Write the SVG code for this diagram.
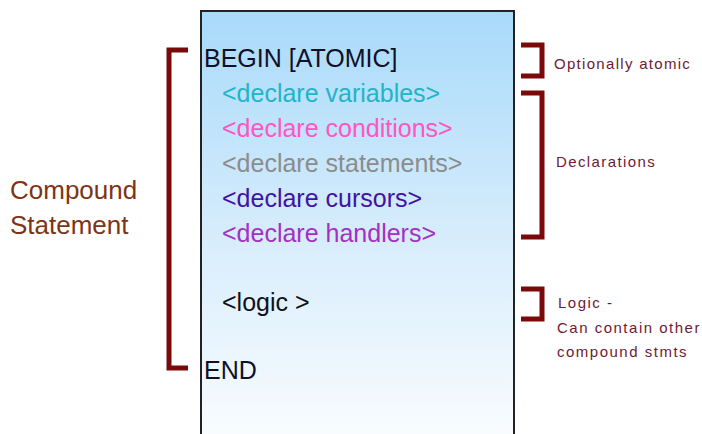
<svg xmlns="http://www.w3.org/2000/svg" width="702" height="434" viewBox="0 0 702 434">
  <defs>
    <linearGradient id="boxGrad" x1="0" y1="0" x2="0" y2="1">
      <stop offset="0" stop-color="#a8dafa"/>
      <stop offset="0.55" stop-color="#daeefc"/>
      <stop offset="1" stop-color="#fbfdff"/>
    </linearGradient>
  </defs>
  <style>
    .code { font-family: "Liberation Sans", Arial, sans-serif; font-size: 25px; }
    .note { font-family: "Liberation Sans", Arial, sans-serif; font-size: 15px; fill: #6e1a34; }
    .big { font-family: "Liberation Sans", Arial, sans-serif; font-size: 26px; fill: #7e3414; }
    .brk { fill: none; stroke: #7a0a0a; stroke-width: 5; stroke-linejoin: miter; }
  </style>
  <rect width="702" height="434" fill="#ffffff"/>
  <g id="box">
    <rect x="201" y="11" width="313" height="440" fill="url(#boxGrad)" stroke="#222222" stroke-width="2"/>
    <text class="code" x="204" y="67" fill="#101028">BEGIN [ATOMIC]</text>
    <text class="code" x="222" y="102" fill="#22b4c8">&lt;declare variables&gt;</text>
    <text class="code" x="222" y="137" fill="#ff55c4">&lt;declare conditions&gt;</text>
    <text class="code" x="222" y="172" fill="#8c8c8c">&lt;declare statements&gt;</text>
    <text class="code" x="222" y="207" fill="#4212a4">&lt;declare cursors&gt;</text>
    <text class="code" x="222" y="242" fill="#a430c4">&lt;declare handlers&gt;</text>
    <text class="code" x="222" y="311" fill="#101018">&lt;logic &gt;</text>
    <text class="code" x="204" y="379" fill="#101028">END</text>
  </g>
  <g id="label-compound">
    <text class="big" x="10" y="199">Compound</text>
    <text class="big" x="10" y="234">Statement</text>
  </g>
  <g id="label-atomic">
    <text class="note" x="554" y="69" letter-spacing="1.3">Optionally atomic</text>
  </g>
  <g id="label-declarations">
    <text class="note" x="556" y="167" letter-spacing="1.4">Declarations</text>
  </g>
  <g id="label-logic">
    <text class="note" x="558" y="308" letter-spacing="1.5">Logic -</text>
    <text class="note" x="557" y="333" letter-spacing="1.5">Can contain other</text>
    <text class="note" x="557" y="357" letter-spacing="1.5">compound stmts</text>
  </g>
  <g id="connectors">
    <path class="brk" d="M188,50 H169 V368 H188"/>
    <path class="brk" d="M521,45 H542 V76 H521"/>
    <path class="brk" d="M521,93 H542 V237 H521"/>
    <path class="brk" d="M521,289 H542 V319 H521"/>
  </g>
</svg>
